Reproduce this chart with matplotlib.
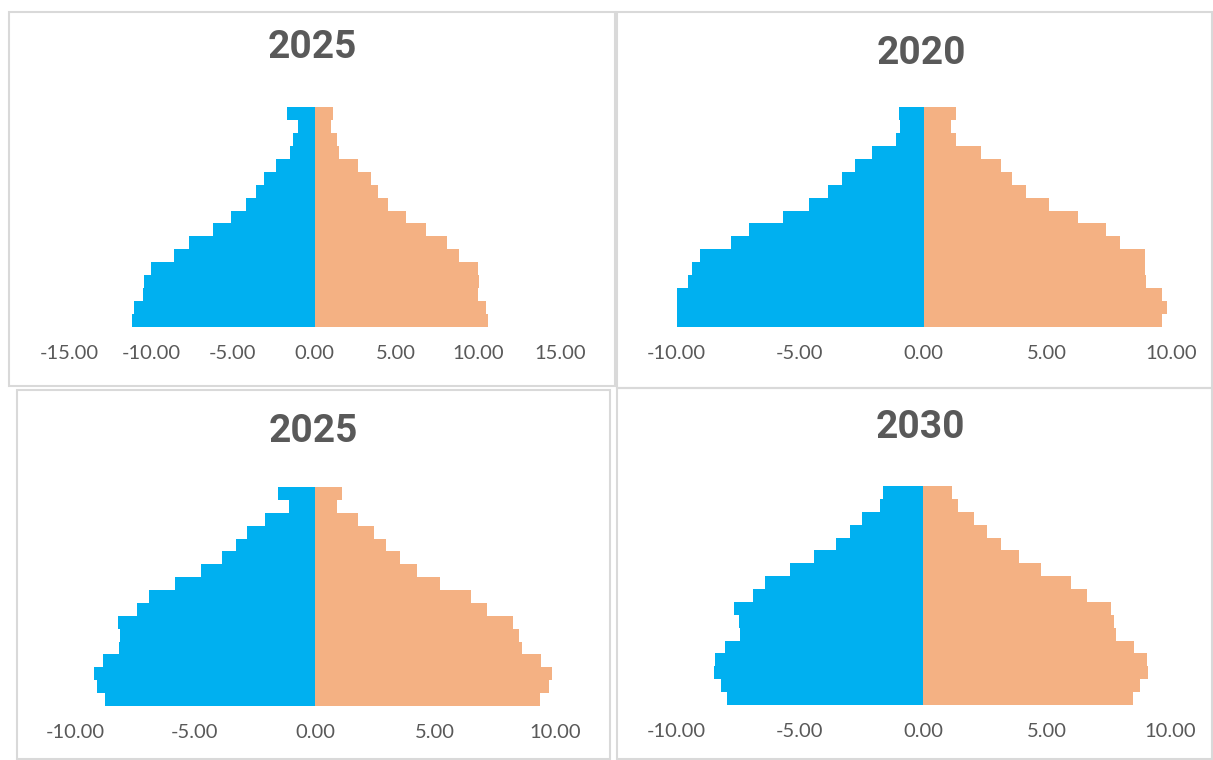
import matplotlib
matplotlib.use("Agg")
import matplotlib.pyplot as plt
from matplotlib.patches import Rectangle
from matplotlib.ticker import FuncFormatter

# 年龄组（自下而上）
age_groups = ["0-4", "5-9", "10-14", "15-19", "20-24", "25-29", "30-34", "35-39",
              "40-44", "45-49", "50-54", "55-59", "60-64", "65-69", "70-74", "75-79", "80+"]

# 各图的男性/女性占比（%）
male_2025a = [11.18, 11.00, 10.47, 10.39, 10.02, 8.60, 7.66, 6.18, 5.10, 4.19, 3.56, 3.09, 2.38, 1.50, 1.34, 1.00, 1.69]
female_2025a = [10.61, 10.49, 9.98, 10.06, 10.02, 8.82, 8.07, 6.83, 5.57, 4.51, 3.90, 3.43, 2.64, 1.52, 1.38, 1.00, 1.14]

male_2020 = [9.96, 9.96, 9.96, 9.53, 9.37, 9.02, 7.77, 7.06, 5.67, 4.64, 3.84, 3.29, 2.78, 2.10, 1.13, 0.95, 0.97]
female_2020 = [9.64, 9.84, 9.62, 8.98, 8.95, 8.95, 7.94, 7.38, 6.25, 5.08, 4.14, 3.58, 3.12, 2.34, 1.30, 1.12, 1.32]

male_2025b = [8.75, 9.08, 9.21, 8.85, 8.15, 8.14, 8.22, 7.40, 6.90, 5.83, 4.74, 3.86, 3.31, 2.83, 2.07, 1.10, 1.53]
female_2025b = [9.39, 9.74, 9.88, 9.43, 8.63, 8.49, 8.25, 7.18, 6.51, 5.22, 4.26, 3.53, 2.96, 2.46, 1.78, 0.92, 1.13]

male_2030 = [7.92, 8.19, 8.47, 8.44, 8.01, 7.39, 7.45, 7.65, 6.88, 6.41, 5.40, 4.40, 3.53, 2.96, 2.47, 1.73, 1.63]
female_2030 = [8.49, 8.80, 9.09, 9.05, 8.56, 7.81, 7.73, 7.61, 6.63, 5.99, 4.77, 3.90, 3.17, 2.59, 2.06, 1.41, 1.17]

titles = ["2025", "2020", "2025", "2030"]
x_ticks = [[-15, -10, -5, 0, 5, 10, 15], [-10, -5, 0, 5, 10], [-10, -5, 0, 5, 10], [-10, -5, 0, 5, 10]]

BLUE = "#00B0F0"
ORANGE = "#F4B183"
GREY = "#595959"

W, H = 1213, 760
fig = plt.figure(figsize=(W / 100, H / 100), dpi=100)


def px_rect(x0, y0, x1, y1):
    # 像素坐标 -> figure 坐标
    return [x0 / W, 1 - y1 / H, (x1 - x0) / W, (y1 - y0) / H]


# 每个面板的外框
frames = [(9, 12, 615, 386), (617, 12, 1212, 388), (17, 390, 610, 759), (617, 388, 1212, 759)]
for x0, y0, x1, y1 in frames:
    fig.patches.append(Rectangle((x0 / W, 1 - y1 / H), (x1 - x0) / W, (y1 - y0) / H,
                                 transform=fig.transFigure, fill=False,
                                 edgecolor="#D9D9D9", linewidth=1.5))

# 坐标区位置（像素）
axes_px = [(69, 107, 560, 327), (676, 107, 1171, 327), (75, 487, 555, 706), (676, 486, 1170, 705)]
title_pos = [(312, 48), (921, 53), (313, 432), (920, 427)]
data = [(male_2025a, female_2025a), (male_2020, female_2020),
        (male_2025b, female_2025b), (male_2030, female_2030)]

for i in range(4):
    male, female = data[i]
    ax = fig.add_axes(px_rect(*axes_px[i]))
    ax.barh(age_groups, [-v for v in male], height=1.0, color=BLUE)
    ax.barh(age_groups, female, height=1.0, color=ORANGE)
    ax.set_xlim(x_ticks[i][0], x_ticks[i][-1])
    ax.set_ylim(-0.5, len(age_groups) - 0.5)
    ax.set_xticks(x_ticks[i])
    ax.xaxis.set_major_formatter(FuncFormatter(lambda x, pos: f"{x:.2f}"))
    ax.tick_params(axis="x", length=0, pad=13, labelsize=14.5, labelcolor=GREY)
    for lab in ax.get_xticklabels():
        lab.set_family(["Lato", "DejaVu Sans"])
    ax.set_yticks([])
    for s in ax.spines.values():
        s.set_visible(False)
    ax.patch.set_alpha(0)

    tx, ty = title_pos[i]
    fig.text(tx / W, 1 - ty / H, titles[i], ha="center", va="center",
             fontsize=28, fontweight="bold", color=GREY,
             family=["Roboto", "DejaVu Sans"])

fig.savefig("out.png", dpi=100)
